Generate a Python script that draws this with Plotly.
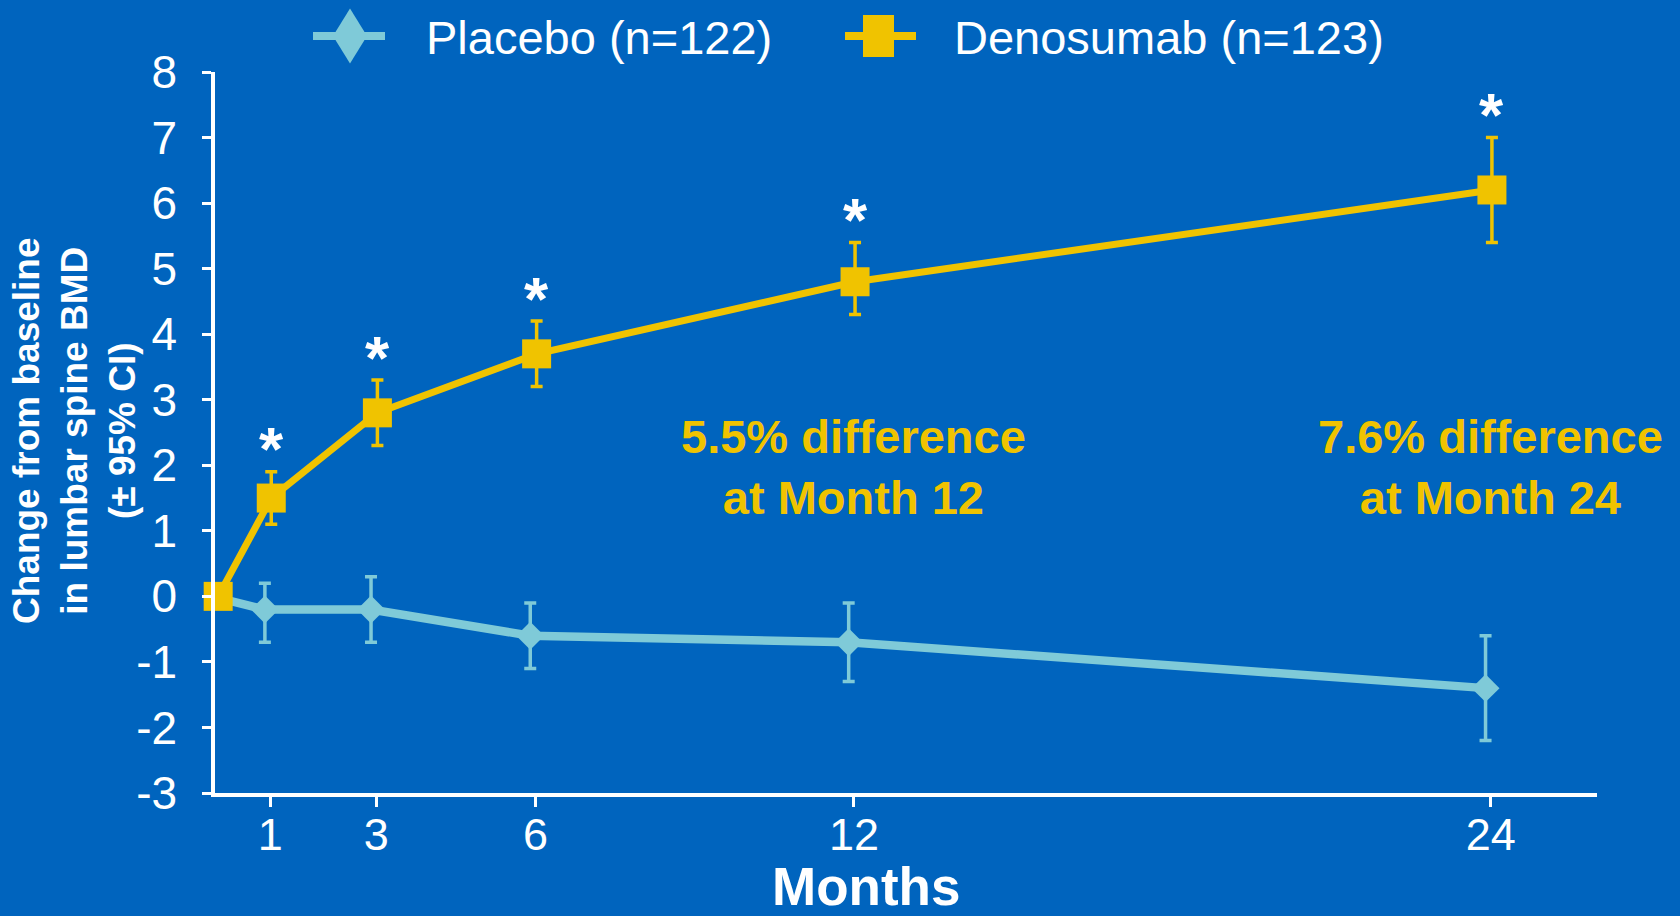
import plotly.graph_objects as go

# ---------------- data ----------------
months = [0, 1, 3, 6, 12, 24]
placebo = [0.0, -0.2, -0.2, -0.6, -0.7, -1.4]
placebo_lo = [0.0, -0.7, -0.7, -1.1, -1.3, -2.2]
placebo_hi = [0.0, 0.2, 0.3, -0.1, -0.1, -0.6]
deno = [0.0, 1.5, 2.8, 3.7, 4.8, 6.2]
deno_lo = [0.0, 1.1, 2.3, 3.2, 4.3, 5.4]
deno_hi = [0.0, 1.9, 3.3, 4.2, 5.4, 7.0]
significant = [False, True, True, True, True, True]
x_ticks = [1, 3, 6, 12, 24]
y_ticks = [-3, -2, -1, 0, 1, 2, 3, 4, 5, 6, 7, 8]
series_names = ["Placebo (n=122)", "Denosumab (n=123)"]
diff_labels = [(12, "5.5% difference<br>at Month 12"), (24, "7.6% difference<br>at Month 24")]

# ---------------- style ----------------
BG = "#0064BE"
YEL = "#F0C300"
LBLUE = "#7FCAD8"
WHITE = "#FFFFFF"
FONT = "Liberation Sans, Arial, sans-serif"

W, H = 1680, 916
L, R, T, B = 215, 1597, 72, 793


def px(x):
    return (x - L) / (R - L)


def py(y):
    return (B - y) / (B - T)


placebo_x = [m - 0.1 for m in months]
deno_x = [m + 0.02 for m in months]

fig = go.Figure()

fig.add_trace(go.Scatter(
    x=placebo_x, y=placebo, mode="lines+markers", name=series_names[0],
    line=dict(color=LBLUE, width=8.5),
    marker=dict(symbol="diamond", size=21.5, color=LBLUE, line=dict(width=0)),
    error_y=dict(type="data", symmetric=False,
                 array=[h - v for h, v in zip(placebo_hi, placebo)],
                 arrayminus=[v - l for v, l in zip(placebo, placebo_lo)],
                 color=LBLUE, thickness=3.5, width=6),
    cliponaxis=False, showlegend=False,
))

fig.add_trace(go.Scatter(
    x=deno_x, y=deno, mode="lines+markers", name=series_names[1],
    line=dict(color=YEL, width=7),
    marker=dict(symbol="square", size=29, color=YEL, line=dict(width=0)),
    error_y=dict(type="data", symmetric=False,
                 array=[h - v for h, v in zip(deno_hi, deno)],
                 arrayminus=[v - l for v, l in zip(deno, deno_lo)],
                 color=YEL, thickness=3.5, width=6),
    cliponaxis=False, showlegend=False,
))

annotations = []

# asterisks above significant denosumab CIs
for m, hi, s in zip(deno_x, deno_hi, significant):
    if s:
        annotations.append(dict(
            x=m, y=hi, xref="x", yref="y", text="<b>*</b>", showarrow=False,
            font=dict(family=FONT, size=62, color=WHITE),
            xanchor="center", yanchor="middle", yshift=23,
        ))

# difference labels
for m, txt in diff_labels:
    annotations.append(dict(
        x=m, y=1.97, xref="x", yref="y", text="<b>" + txt + "</b>", showarrow=False,
        font=dict(family=FONT, size=47, color=YEL), align="center",
        xanchor="center", yanchor="middle",
    ))

# y-axis title
annotations.append(dict(
    x=px(74), y=py(431), xref="paper", yref="paper",
    text="<b>Change from baseline<br>in lumbar spine BMD<br>(± 95% CI)</b>",
    textangle=-90, showarrow=False, align="center",
    font=dict(family=FONT, size=37, color=WHITE),
    xanchor="center", yanchor="middle",
))

# x-axis title
annotations.append(dict(
    x=px(866), y=py(886), xref="paper", yref="paper",
    text="<b>Months</b>", showarrow=False,
    font=dict(family=FONT, size=53, color=WHITE),
    xanchor="center", yanchor="middle",
))

# custom legend
shapes = []
leg_y = 36
# placebo
shapes.append(dict(type="line", xref="paper", yref="paper",
                   x0=px(313), x1=px(385), y0=py(leg_y), y1=py(leg_y),
                   line=dict(color=LBLUE, width=8)))
cx, hw, hh = 350, 17, 27.5
shapes.append(dict(type="path", xref="paper", yref="paper",
                   path="M {} {} L {} {} L {} {} L {} {} Z".format(
                       px(cx), py(leg_y - hh), px(cx + hw), py(leg_y),
                       px(cx), py(leg_y + hh), px(cx - hw), py(leg_y)),
                   fillcolor=LBLUE, line=dict(width=0)))
annotations.append(dict(
    x=px(424), y=py(37), xref="paper", yref="paper", text=series_names[0],
    showarrow=False, font=dict(family=FONT, size=47, color=WHITE),
    xanchor="left", yanchor="middle",
))
# denosumab
shapes.append(dict(type="line", xref="paper", yref="paper",
                   x0=px(845), x1=px(916), y0=py(leg_y), y1=py(leg_y),
                   line=dict(color=YEL, width=8)))
shapes.append(dict(type="rect", xref="paper", yref="paper",
                   x0=px(863), x1=px(894), y0=py(15), y1=py(57),
                   fillcolor=YEL, line=dict(width=0)))
annotations.append(dict(
    x=px(952), y=py(37), xref="paper", yref="paper", text=series_names[1],
    showarrow=False, font=dict(family=FONT, size=47, color=WHITE),
    xanchor="left", yanchor="middle",
))

fig.update_layout(
    width=W, height=H,
    paper_bgcolor=BG, plot_bgcolor=BG,
    margin=dict(l=L, r=W - R, t=T, b=H - B, pad=0),
    showlegend=False,
    annotations=annotations,
    shapes=shapes,
    font=dict(family=FONT, color=WHITE),
)

fig.update_xaxes(
    range=[-0.04, 26], tickmode="array", tickvals=x_ticks,
    ticktext=[str(t) for t in x_ticks],
    showgrid=False, zeroline=False,
    showline=True, linecolor=WHITE, linewidth=3.5,
    ticks="outside", ticklen=10, tickwidth=3, tickcolor=WHITE,
    tickfont=dict(family=FONT, size=45, color=WHITE),
    ticklabelstandoff=-11,
)
fig.update_yaxes(
    range=[-3, 8], tickmode="array", tickvals=y_ticks,
    ticktext=[str(t) for t in y_ticks],
    showgrid=False, zeroline=False,
    showline=True, linecolor=WHITE, linewidth=3.5,
    ticks="outside", ticklen=9, tickwidth=3, tickcolor=WHITE,
    tickfont=dict(family=FONT, size=46, color=WHITE),
    ticklabelstandoff=16,
)

fig.write_html(
    "out.html",
    config={"displayModeBar": False},
    post_script="document.body.style.margin='0';document.body.style.padding='0';",
)
